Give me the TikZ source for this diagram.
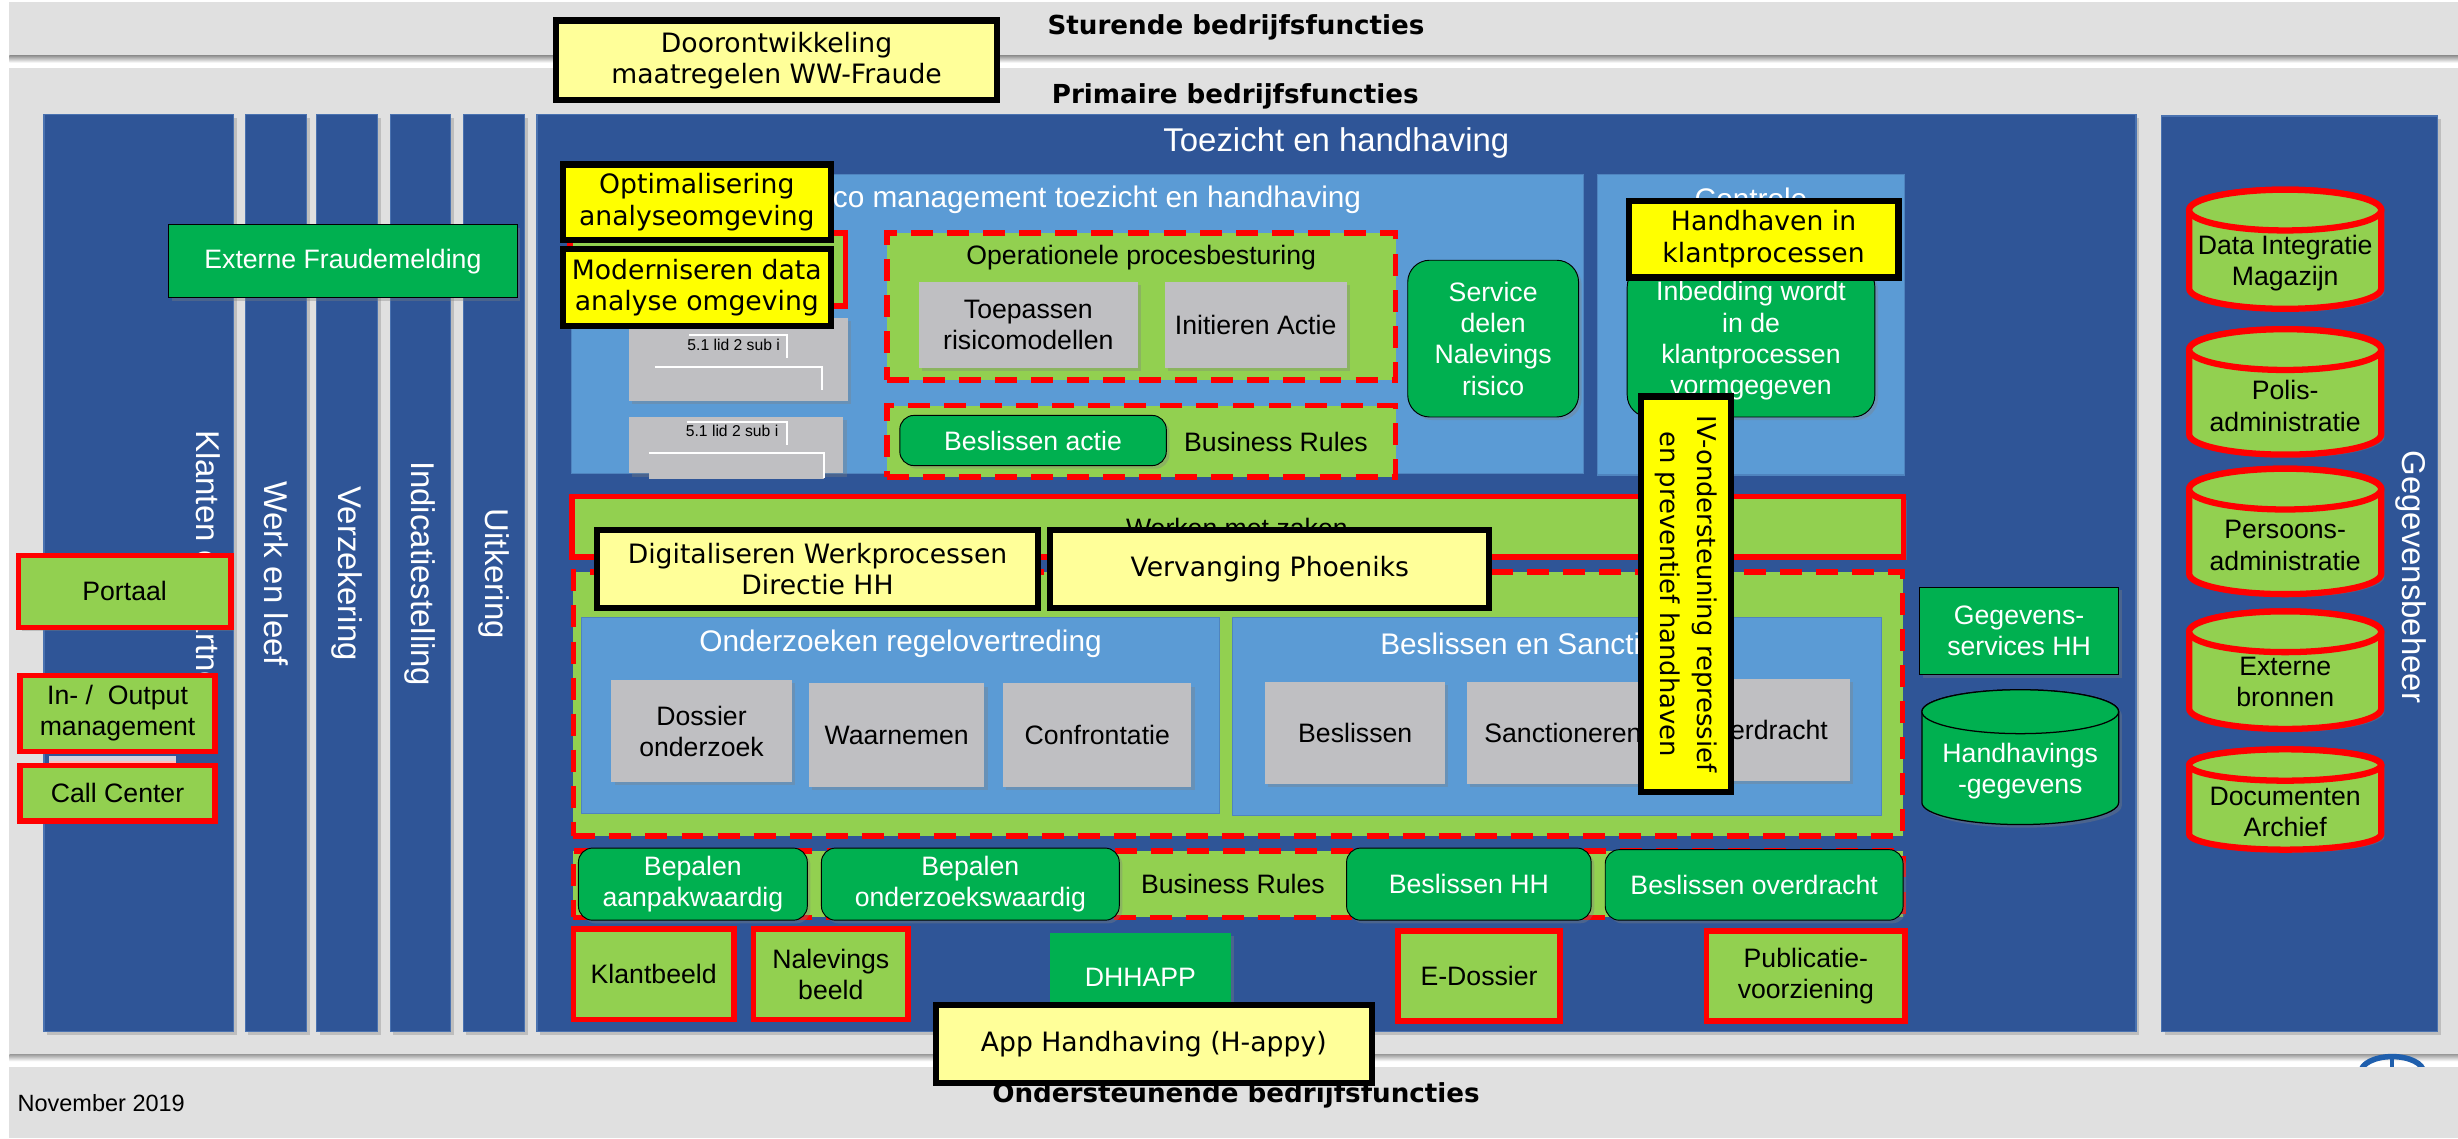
\documentclass[tikz,border=0pt]{standalone}
\usepackage{fontspec}
\setmainfont{Liberation Sans}
\newfontfamily\verd{DejaVu Sans}
\usetikzlibrary{shadows}
\definecolor{bandgray}{HTML}{E0E0E0}
\definecolor{laneblue}{HTML}{2F5597}
\definecolor{laneedge}{HTML}{4A72B0}
\definecolor{areablue}{HTML}{5B9BD5}
\definecolor{areaedge}{HTML}{4F84BF}
\definecolor{boxgrey}{HTML}{BFBFC2}
\definecolor{sysgreen}{HTML}{92D050}
\definecolor{appgreen}{HTML}{00B050}
\definecolor{paleyellow}{HTML}{FFFF99}
\definecolor{brightyellow}{HTML}{FFFF00}
\definecolor{logoblue}{HTML}{1F5FAD}
\newcommand{\boxfont}{\fontsize{17}{20}\selectfont}
\newcommand{\projfont}{\verd\fontsize{17}{20}\selectfont}
\begin{document}
\begin{tikzpicture}[x=1pt,y=-1pt,
  shadowed/.style={drop shadow={shadow xshift=2pt,shadow yshift=-2pt,opacity=0.35}},
  bandtitle/.style={font=\verd\bfseries\fontsize{16.7}{20}\selectfont},
  lane/.style={draw=laneedge, line width=0.8pt, fill=laneblue, shadowed},
  lanetext/.style={rotate=-90, text=white, font=\fontsize{21}{25}\selectfont},
  area/.style={draw=areaedge, line width=0.8pt, fill=areablue},
  areatitle/.style={text=white, font=\fontsize{19}{23}\selectfont},
  greybox/.style={fill=boxgrey, inner sep=0pt, align=center, font=\boxfont, shadowed},
  smalltext/.style={font=\fontsize{10}{12}\selectfont},
  appbox/.style={fill=appgreen, draw=black, line width=0.6pt, rounded corners=9pt, text=white, align=center, inner sep=0pt, font=\boxfont, shadowed},
  sysbox/.style={fill=sysgreen, draw=red, line width=3.5pt, align=center, inner sep=0pt, font=\boxfont, shadowed},
  rulesbox/.style={fill=sysgreen, draw=red, line width=3.5pt, dash pattern=on 14pt off 9pt, inner sep=0pt},
  projbox/.style={draw=black, line width=4pt, align=center, inner sep=0pt, font=\projfont},
  projlight/.style={projbox, fill=paleyellow},
  projbright/.style={projbox, fill=brightyellow},
  store/.style={fill=sysgreen, draw=red, line width=4pt},
  hhstore/.style={fill=appgreen, draw=black, line width=0.8pt}]
\useasboundingbox (0,0) rectangle (1568,726);
\fill[bandgray] (6,1) rectangle (1568,35.7);
\shade[top color=black!40, bottom color=white] (6,35.7) rectangle (1568,40);
\fill[bandgray] (6,43.6) rectangle (1568,672.4);
\shade[top color=black!40, bottom color=white] (6,672.4) rectangle (1568,677);
\draw[logoblue, line width=3.5pt] (1506,684) arc[start angle=180, end angle=360, x radius=20, y radius=10];
\draw[logoblue, line width=2.5pt] (1526,674) -- (1526,684);
\fill[bandgray] (6,680.5) rectangle (1568,726);
\node[bandtitle] (sturend) at (788.5,17.7) {Sturende bedrijfsfuncties};
\node[bandtitle] (primair) at (788,61.7) {Primaire bedrijfsfuncties};
\node[bandtitle] (ondersteunend) at (788.5,699) {Ondersteunende bedrijfsfuncties};
\node[anchor=west, inner sep=0pt, font=\fontsize{15}{18}\selectfont] (datum) at (11,703.6) {November 2019};
\draw[lane] (28,73) rectangle (149,658);
\draw[lane] (156.5,73) rectangle (195.5,658);
\draw[lane] (202,73) rectangle (241,658);
\draw[lane] (249,73) rectangle (287.5,658);
\draw[lane] (295.5,73) rectangle (334.5,658);
\draw[lane] (342.5,73) rectangle (1362.5,658);
\draw[lane] (1379,74) rectangle (1555,658);
\node[lanetext] (klanten) at (131,366) {Klanten en partners};
\node[lanetext] (werk) at (176,366) {Werk en leef};
\node[lanetext] (verzekering) at (221.5,366) {Verzekering};
\node[lanetext] (indicatie) at (268,366) {Indicatiestelling};
\node[lanetext] (uitkering) at (315,366) {Uitkering};
\node[lanetext] (gegevensbeheer) at (1538,368) {Gegevensbeheer};
\node[areatitle, font=\fontsize{21}{25}\selectfont] (toezicht) at (852.5,91) {Toezicht en handhaving};
\draw[area] (364.5,111.5) rectangle (1010,302);
\node[areatitle] (risico) at (684,127.5) {Risico management toezicht en handhaving};
\draw[area] (1019,111.5) rectangle (1215,303);
\node[areatitle] (controle) at (1117,127) {Controle};
\draw[red, line width=3.5pt, fill=sysgreen] (363.75,148.75) rectangle (539.25,195.25);
\node[greybox, minimum width=140, minimum height=53] (lid1) at (471,229.5) {};
\node[smalltext] (lid1txt) at (468,220) {5.1 lid 2 sub i};
\draw[white, line width=1.2pt] (439.5,213.7) -- (502,213.7) -- (502,228.6);
\draw[white, line width=1.2pt] (417.7,234.3) -- (524.6,234.3) -- (524.6,248.8);
\node[greybox, minimum width=137, minimum height=36] (lid2) at (469.5,284) {};
\fill[boxgrey] (414,289) rectangle (525.7,305.6);
\node[smalltext] (lid2txt) at (467,274.7) {5.1 lid 2 sub i};
\draw[white, line width=1.2pt] (438,269) -- (502,269) -- (502,284);
\draw[white, line width=1.2pt] (414,289.2) -- (525.7,289.2) -- (525.7,305);
\node[rulesbox, minimum width=324.5, minimum height=93.5] (opbox) at (728,195.5) {};
\node[font=\boxfont] (optitel) at (728,164.6) {Operationele procesbesturing};
\node[greybox, minimum width=140, minimum height=54.5] (toepassen) at (656,207.2) {Toepassen\\risicomodellen};
\node[greybox, minimum width=116, minimum height=54.5] (initieren) at (801,207.2) {Initieren Actie};
\node[rulesbox, minimum width=324.5, minimum height=45.5] (actiebox) at (728,281.5) {};
\node[appbox, minimum width=170, minimum height=32] (beslactie) at (659,281) {Beslissen actie};
\node[font=\boxfont] (actierules) at (814,281.8) {Business Rules};
\node[appbox, rounded corners=14pt, minimum width=109, minimum height=100] (service) at (952.5,216) {Service\\delen\\Nalevings\\risico};
\node[appbox, rounded corners=14pt, minimum width=158, minimum height=97] (inbedding) at (1117,217.5) {Inbedding wordt\\in de\\klantprocessen\\vormgegeven};
\node[sysbox, minimum width=849.5, minimum height=38.5] (zaken) at (789.5,336) {};
\node[font=\boxfont] (zakentitel) at (789,337) {Werken met zaken};
\node[rulesbox, minimum width=848, minimum height=168.5] (procesbox) at (789.75,449) {};
\draw[area] (371,394) rectangle (778,519);
\node[areatitle] (onderzoeken) at (574.5,411) {Onderzoeken regelovertreding};
\node[greybox, minimum width=115, minimum height=65] (dossier) at (447.5,466.5) {Dossier\\onderzoek};
\node[greybox, minimum width=112, minimum height=66] (waarnemen) at (572,469) {Waarnemen};
\node[greybox, minimum width=120, minimum height=66] (confrontatie) at (700,469) {Confrontatie};
\draw[area] (786,394) rectangle (1200,520);
\node[areatitle] (sanctie) at (993,411) {Beslissen en Sanctioneren};
\node[greybox, minimum width=115, minimum height=65] (beslissen) at (864.5,467.5) {Beslissen};
\node[greybox, minimum width=122, minimum height=65] (sanctioneren) at (997,467.5) {Sanctioneren};
\node[greybox, minimum width=112, minimum height=65] (overdracht) at (1124,465.5) {Overdracht};
\node[rulesbox, minimum width=848.5, minimum height=42.5] (rulesrij) at (790,564) {};
\node[appbox, minimum width=146, minimum height=46] (aanpak) at (442,564) {Bepalen\\aanpakwaardig};
\node[appbox, minimum width=190, minimum height=46] (onderzoekswaardig) at (619,564) {Bepalen\\onderzoekswaardig};
\node[font=\boxfont] (rulestekst) at (786.5,564) {Business Rules};
\node[appbox, minimum width=156, minimum height=46] (beslhh) at (937,564) {Beslissen HH};
\node[appbox, minimum width=190, minimum height=45] (besloverdracht) at (1119,564.5) {Beslissen overdracht};
\node[sysbox, minimum width=102.5, minimum height=57.5] (klantbeeld) at (417,621.5) {Klantbeeld};
\node[sysbox, minimum width=98.5, minimum height=57.5] (nalevingsbeeld) at (530,621.5) {Nalevings\\beeld};
\node[appbox, rounded corners=0pt, draw=none, minimum width=115, minimum height=57] (dhhapp) at (727.5,623.5) {DHHAPP};
\node[sysbox, minimum width=103.5, minimum height=57.5] (edossier) at (943.5,622.5) {E-Dossier};
\node[sysbox, minimum width=126.5, minimum height=57.5] (publicatie) at (1152,622.5) {Publicatie-\\voorziening};
\node[appbox, rounded corners=0pt, minimum width=127, minimum height=56] (gegservices) at (1288,402.5) {Gegevens-\\services HH};
\filldraw[hhstore, shadowed] (1226,454) -- (1226,512) arc[start angle=180, end angle=0, x radius=62.75, y radius=14] -- (1351.5,454) arc[start angle=0, end angle=-180, x radius=62.75, y radius=14] -- cycle;
\draw[hhstore] (1288.75,454) ellipse[x radius=62.75, y radius=14];
\node[text=white, font=\boxfont, align=center] (hhgegevens) at (1288.75,492) {Handhavings\\-gegevens};
\filldraw[store, shadowed] (1396.5,134) -- (1396.5,184) arc[start angle=180, end angle=0, x radius=61.25, y radius=13] -- (1519,134) arc[start angle=0, end angle=-180, x radius=61.25, y radius=13] -- cycle;
\draw[store] (1457.75,134) ellipse[x radius=61.25, y radius=13];
\node[font=\boxfont, align=center] (dim) at (1457.75,168) {Data Integratie\\Magazijn};
\filldraw[store, shadowed] (1396.5,223) -- (1396.5,277) arc[start angle=180, end angle=0, x radius=61.25, y radius=13] -- (1519,223) arc[start angle=0, end angle=-180, x radius=61.25, y radius=13] -- cycle;
\draw[store] (1457.75,223) ellipse[x radius=61.25, y radius=13];
\node[font=\boxfont, align=center] (polis) at (1457.75,259) {Polis-\\administratie};
\filldraw[store, shadowed] (1396.5,312) -- (1396.5,366) arc[start angle=180, end angle=0, x radius=61.25, y radius=13] -- (1519,312) arc[start angle=0, end angle=-180, x radius=61.25, y radius=13] -- cycle;
\draw[store] (1457.75,312) ellipse[x radius=61.25, y radius=13];
\node[font=\boxfont, align=center] (persoons) at (1457.75,348) {Persoons-\\administratie};
\filldraw[store, shadowed] (1396.5,403) -- (1396.5,452) arc[start angle=180, end angle=0, x radius=61.25, y radius=13] -- (1519,403) arc[start angle=0, end angle=-180, x radius=61.25, y radius=13] -- cycle;
\draw[store] (1457.75,403) ellipse[x radius=61.25, y radius=13];
\node[font=\boxfont, align=center] (extern) at (1457.75,435) {Externe\\bronnen};
\filldraw[store, shadowed] (1396.5,488) -- (1396.5,532) arc[start angle=180, end angle=0, x radius=61.25, y radius=10] -- (1519,488) arc[start angle=0, end angle=-180, x radius=61.25, y radius=10] -- cycle;
\draw[store] (1457.75,488) ellipse[x radius=61.25, y radius=10];
\node[font=\boxfont, align=center] (archief) at (1457.75,518) {Documenten\\Archief};
\node[appbox, rounded corners=0pt, minimum width=222.5, minimum height=46.5] (fraude) at (218.75,166.75) {Externe Fraudemelding};
\node[sysbox, minimum width=135.5, minimum height=46] (portaal) at (79.5,377.25) {Portaal};
\fill[blue!15!gray!30] (31,482) rectangle (112,485.5);
\fill[red!25] (31,485.5) rectangle (112,489);
\node[sysbox, minimum width=124.5, minimum height=48.5] (inoutput) at (75,455) {In- /~ Output\\management};
\node[sysbox, minimum width=124.5, minimum height=35.5] (callcenter) at (75,506) {Call Center};
\node[projlight, minimum width=281, minimum height=51] (doorontw) at (495.4,38.5) {Doorontwikkeling\\maatregelen WW-Fraude};
\node[projbright, minimum width=171, minimum height=48] (optim) at (444.5,129) {Optimalisering\\analyseomgeving};
\node[projbright, minimum width=171, minimum height=49] (modern) at (444.5,183.5) {Moderniseren data\\analyse omgeving};
\node[projbright, minimum width=172, minimum height=49] (handhaven) at (1125,152.5) {Handhaven in\\klantprocessen};
\node[projbright, rotate=-90, font=\verd\fontsize{16.5}{24}\selectfont, minimum width=252, minimum height=57] (ivsteun) at (1075.5,379) {IV-ondersteuning repressief\\en preventief handhaven};
\node[projlight, minimum width=281, minimum height=50] (digitaal) at (521.5,363) {Digitaliseren Werkprocessen\\Directie HH};
\node[projlight, minimum width=280, minimum height=50] (phoeniks) at (810,363) {Vervanging Phoeniks};
\node[projlight, minimum width=278, minimum height=50] (happy) at (736,666) {App Handhaving (H-appy)};
\end{tikzpicture}
\end{document}
